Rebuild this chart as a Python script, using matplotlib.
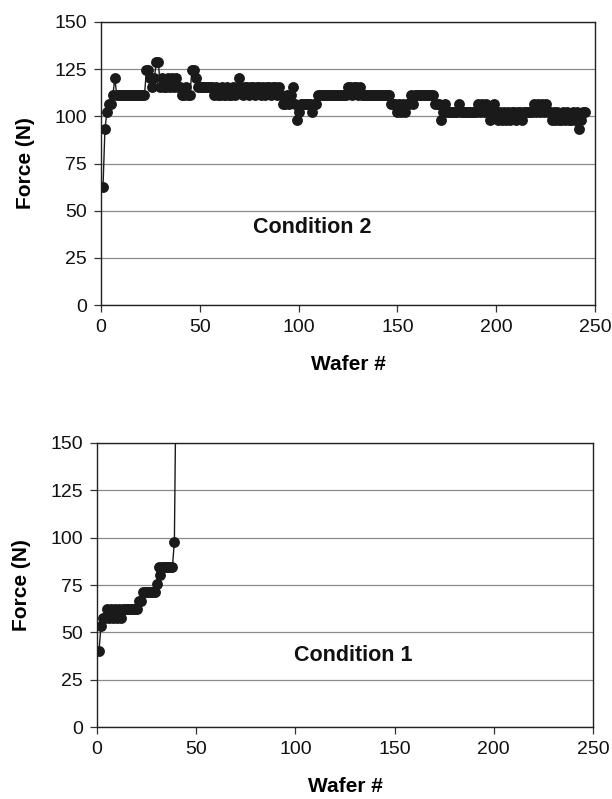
import matplotlib
matplotlib.use("Agg")
import matplotlib.pyplot as plt

plt.rcParams['font.family'] = ['Liberation Sans', 'DejaVu Sans']

# Condition 2 (top panel): wafer number -> force (N)
force_cond2 = [
    62.3, 93.4, 102.3, 106.8, 106.8, 111.2, 120.1,
    111.2, 111.2, 111.2, 111.2, 111.2, 111.2, 111.2, 111.2, 111.2, 111.2, 111.2, 111.2, 111.2, 111.2, 111.2,
    124.6, 124.6, 120.1, 115.7, 120.1, 129.0, 129.0, 115.7, 120.1, 115.7, 115.7, 120.1, 115.7, 120.1,
    115.7, 120.1, 115.7, 115.7, 111.2, 111.2, 115.7, 111.2, 111.2, 124.6, 124.6, 120.1,
    115.7, 115.7, 115.7, 115.7, 115.7, 115.7, 115.7, 115.7,
    111.2, 115.7, 111.2, 111.2, 115.7, 111.2, 111.2, 115.7, 111.2, 111.2, 115.7, 111.2, 115.7,
    120.1, 115.7,
    111.2, 115.7, 115.7, 111.2, 115.7, 115.7, 111.2, 115.7, 115.7, 111.2, 115.7, 111.2, 115.7, 115.7,
    111.2, 115.7, 115.7, 111.2, 115.7, 111.2,
    106.8, 106.8, 111.2, 106.8, 111.2, 115.7, 106.8, 97.9, 102.3, 106.8, 106.8, 106.8, 106.8, 106.8,
    106.8, 102.3, 106.8, 106.8,
    111.2, 111.2, 111.2, 111.2, 111.2, 111.2, 111.2, 111.2, 111.2, 111.2, 111.2, 111.2, 111.2, 111.2, 111.2,
    115.7, 115.7, 111.2, 115.7, 115.7, 111.2, 115.7,
    111.2, 111.2, 111.2, 111.2, 111.2, 111.2, 111.2, 111.2, 111.2, 111.2, 111.2, 111.2, 111.2, 111.2, 111.2,
    106.8, 106.8, 106.8, 102.3, 106.8, 102.3, 106.8, 102.3, 106.8, 106.8, 111.2, 106.8, 111.2,
    111.2, 111.2, 111.2, 111.2, 111.2, 111.2, 111.2, 111.2, 111.2,
    106.8, 106.8, 106.8, 97.9, 102.3, 106.8, 102.3, 102.3,
    102.3, 102.3, 102.3, 102.3, 106.8, 102.3, 102.3, 102.3, 102.3, 102.3, 102.3, 102.3, 102.3,
    102.3, 106.8, 102.3, 106.8, 102.3, 106.8, 102.3, 97.9, 102.3, 106.8, 102.3, 97.9,
    102.3, 97.9, 102.3, 97.9, 102.3, 97.9, 102.3, 102.3, 97.9, 102.3, 102.3, 97.9, 102.3, 102.3, 102.3, 102.3,
    102.3, 106.8, 102.3, 106.8, 102.3, 106.8, 102.3, 106.8, 102.3, 102.3,
    97.9, 102.3, 97.9, 102.3, 97.9, 97.9, 102.3, 97.9, 102.3, 97.9, 97.9, 102.3, 97.9, 102.3,
    93.4, 97.9, 102.3, 102.3,
]
wafer_cond2 = list(range(1, len(force_cond2) + 1))

# Condition 1 (bottom panel)
force_cond1 = [
    40.0, 53.4, 57.8, 57.8, 62.3, 57.8, 62.3, 57.8, 62.3, 57.8, 62.3, 57.8, 62.3,
    62.3, 62.3, 62.3, 62.3, 62.3, 62.3, 62.3,
    66.7, 66.7, 71.2, 71.2, 71.2, 71.2, 71.2, 71.2, 71.2, 75.6, 84.5, 80.1,
    84.5, 84.5, 84.5, 84.5, 84.5, 84.5, 97.9, 200.0,
]
wafer_cond1 = list(range(1, len(force_cond1) + 1))

x_ticks = [0, 50, 100, 150, 200, 250]
y_ticks = [0, 25, 50, 75, 100, 125, 150]
panel_labels = ["Condition 2", "Condition 1"]

W, H = 612, 799
fig = plt.figure(figsize=(W / 100, H / 100), dpi=100)

def make_ax(left, right, top, bottom):
    return fig.add_axes([left / W, 1 - bottom / H, (right - left) / W, (bottom - top) / H])

ax1 = make_ax(101, 595, 22, 305)
ax2 = make_ax(97, 593, 443, 727)

def style(ax, top_y, bottom_label_y):
    ax.set_xlim(0, 250)
    ax.set_ylim(0, 150)
    ax.set_xticks(x_ticks)
    ax.set_yticks(y_ticks)
    ax.yaxis.grid(True, color='#8a8a8a', linewidth=0.9)
    ax.set_axisbelow(True)
    for s in ax.spines.values():
        s.set_color('#222222')
        s.set_linewidth(1.0)
    ax.tick_params(axis='both', direction='out', length=5, width=0.9, color='#333333',
                   labelsize=14, labelcolor='#111111', pad=5)
    ax.set_xlabel("Wafer #", fontsize=15, fontweight='bold', labelpad=14)
    ax.set_ylabel("Force (N)", fontsize=15, fontweight='bold', labelpad=14)

for ax, wx, fy, lab, tx, ty in [
    (ax1, wafer_cond2, force_cond2, panel_labels[0], 107, 41),
    (ax2, wafer_cond1, force_cond1, panel_labels[1], 129, 38),
]:
    style(ax, None, None)
    ax.plot(wx, fy, color='#1a1a1a', linewidth=1.0, marker='o', markersize=6.8,
            markerfacecolor='#1a1a1a', markeredgecolor='#1a1a1a', clip_on=True, zorder=3)
    ax.text(tx, ty, lab, fontsize=15.5, fontweight='bold', ha='center', va='center', color='#111111')

fig.savefig("out.png", dpi=100)
